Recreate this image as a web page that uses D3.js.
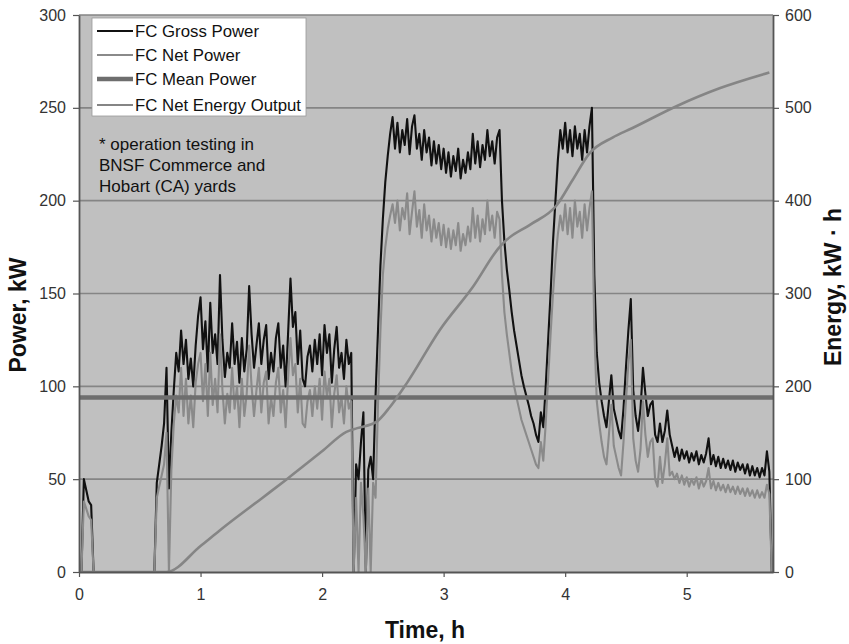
<!DOCTYPE html>
<html>
<head>
<meta charset="utf-8">
<script src="https://cdn.jsdelivr.net/npm/d3@7"></script>
<style>
body { margin: 0; background: #fff; }
text { font-family: Arial, "Liberation Sans", sans-serif; }
</style>
</head>
<body>
<svg id="chart"></svg>
<script>
var width = 849;
var height = 644;

// power samples, one every 0.02 h starting at t = 0
var sampleHours = 0.02;

var grossPower = [
 0,0,50,44,38,36,0,0,0,0,
 0,0,0,0,0,0,0,0,0,0,
 0,0,0,0,0,0,0,0,0,0,
 0,0,48,58,68,80,110,45,75,98,
 118,108,130,112,125,104,115,100,122,138,
 148,120,135,108,145,118,128,112,160,125,
 105,118,110,134,112,124,102,126,108,120,
 154,128,110,122,134,112,125,133,104,118,
 108,126,134,110,122,100,128,158,132,140,
 112,130,104,100,116,122,108,125,112,128,
 106,133,118,128,102,120,132,110,118,104,
 125,112,118,0,58,50,70,86,0,55,
 62,50,95,130,165,190,210,224,236,245,
 228,242,226,238,230,244,225,240,246,228,
 236,222,238,226,234,219,232,220,230,217,
 228,215,226,213,224,216,228,212,222,215,
 226,217,236,220,232,218,230,222,238,224,
 232,220,234,238,200,178,163,152,140,130,
 122,114,106,100,95,90,84,80,74,70,
 86,78,100,125,150,178,200,222,238,228,
 242,226,238,224,240,228,236,222,238,226,
 240,250,160,118,102,92,84,78,92,106,
 88,82,76,72,88,110,130,147,98,84,
 76,88,110,96,84,90,92,74,70,80,
 70,76,87,74,68,62,67,60,66,61,
 65,59,64,60,65,58,63,59,64,72,
 58,63,57,62,56,61,56,60,55,60,
 54,59,55,58,53,58,52,57,52,56,
 51,56,52,65,54,0
];

var netPower = [
 0,0,38,34,30,28,0,0,0,0,
 0,0,0,0,0,0,0,0,0,0,
 0,0,0,0,0,0,0,0,0,0,
 0,0,40,46,52,58,75,0,55,80,
 95,86,110,84,104,80,95,78,102,112,
 118,92,112,84,118,90,104,86,128,98,
 80,96,86,110,88,100,78,104,84,96,
 122,100,84,98,110,86,102,108,80,94,
 84,102,110,86,98,78,104,126,106,112,
 86,104,80,78,92,98,84,100,88,104,
 82,108,94,104,78,96,106,86,94,80,
 100,88,92,0,40,0,48,30,0,45,
 0,48,40,90,130,160,175,185,192,198,
 188,200,184,196,190,204,182,194,205,186,
 195,180,198,184,192,178,190,180,188,176,
 187,175,185,174,184,176,188,173,182,176,
 186,178,196,180,192,178,190,182,200,184,
 192,180,194,190,160,140,128,118,108,100,
 94,88,82,78,74,70,66,62,58,56,
 70,60,80,104,128,150,168,182,192,184,
 198,182,196,180,200,186,194,180,198,184,
 196,205,130,92,80,70,62,58,74,90,
 68,62,56,52,70,92,112,125,72,60,
 54,66,92,74,62,70,72,50,46,62,
 48,58,72,52,54,50,53,48,52,47,
 51,46,50,47,51,45,50,46,49,56,
 45,49,44,48,44,47,43,47,43,46,
 42,46,42,45,41,45,41,44,40,44,
 40,43,40,47,42,0
];

var meanPower = 94;

var energyHours = [0,0.72,1.0,1.16,1.5,1.71,2.0,2.2,2.29,2.45,2.56,2.7,2.97,3.24,3.46,3.52,3.71,3.93,4.06,4.2,4.39,4.55,4.92,5.27,5.68];
var energyKWh = [0,0,28,45,79,100,130,151,155,162,178,204,261,307,350,358,374,395,422,451,468,478,502,521,538];

var powerTicks = [0,50,100,150,200,250,300];
var energyTicks = [0,100,200,300,400,500,600];
var timeTicks = [0,1,2,3,4,5];

var legendNames = ["FC Gross Power","FC Net Power","FC Mean Power","FC Net Energy Output"];
var noteLines = ["* operation testing in","BNSF Commerce and","Hobart (CA) yards"];

var plotLeft = 79, plotRight = 773, plotTop = 15, plotBottom = 572;

var x = d3.scaleLinear().domain([0,5.71]).range([plotLeft,plotRight]);
var yPower = d3.scaleLinear().domain([0,300]).range([plotBottom,plotTop]);
var yEnergy = d3.scaleLinear().domain([0,600]).range([plotBottom,plotTop]);

var svg = d3.select("#chart")
  .attr("width", width)
  .attr("height", height);

svg.append("rect")
  .attr("x", plotLeft).attr("y", plotTop)
  .attr("width", plotRight-plotLeft).attr("height", plotBottom-plotTop)
  .attr("fill", "#c0c0c0");

svg.selectAll(".grid")
  .data(powerTicks.slice(1))
  .enter()
  .append("line")
  .attr("x1", plotLeft).attr("x2", plotRight)
  .attr("y1", function(d) { return yPower(d) })
  .attr("y2", function(d) { return yPower(d) })
  .attr("stroke", "#858585")
  .attr("stroke-width", 1.6);

svg.append("clipPath").attr("id","plotclip")
  .append("rect")
  .attr("x", plotLeft).attr("y", plotTop)
  .attr("width", plotRight-plotLeft).attr("height", plotBottom-plotTop+1);

var plot = svg.append("g").attr("clip-path","url(#plotclip)");

var powerLine = d3.line()
  .x(function(d,i) { return x(i*sampleHours) })
  .y(function(d) { return yPower(d) });

plot.append("path")
  .attr("d", powerLine(grossPower))
  .attr("fill","none")
  .attr("stroke","#111")
  .attr("stroke-width",2.1)
  .attr("stroke-linejoin","round");

plot.append("path")
  .attr("d", powerLine(netPower))
  .attr("fill","none")
  .attr("stroke","#8a8a8a")
  .attr("stroke-width",2.1)
  .attr("stroke-linejoin","round");

plot.append("line")
  .attr("x1", plotLeft).attr("x2", plotRight)
  .attr("y1", yPower(meanPower)).attr("y2", yPower(meanPower))
  .attr("stroke","#6e6e6e")
  .attr("stroke-width",4.5);

var energyLine = d3.line()
  .x(function(d,i) { return x(energyHours[i]) })
  .y(function(d) { return yEnergy(d) })
  .curve(d3.curveMonotoneX);

plot.append("path")
  .attr("d", energyLine(energyKWh))
  .attr("fill","none")
  .attr("stroke","#858585")
  .attr("stroke-width",2.6);

// axes
var gLeft = svg.append("g")
  .attr("transform","translate("+plotLeft+",0)")
  .call(d3.axisLeft(yPower).tickValues(powerTicks).tickSize(6).tickSizeOuter(0).tickPadding(7));

var gRight = svg.append("g")
  .attr("transform","translate("+plotRight+",0)")
  .call(d3.axisRight(yEnergy).tickValues(energyTicks).tickSize(6).tickSizeOuter(0).tickPadding(6));

var gBottom = svg.append("g")
  .attr("transform","translate(0,"+plotBottom+")")
  .call(d3.axisBottom(x).tickValues(timeTicks).tickFormat(d3.format("d")).tickSize(5).tickSizeOuter(0).tickPadding(12));

[gLeft,gRight,gBottom].forEach(function(g) {
  g.select(".domain").attr("stroke","#555").attr("stroke-width",1.8);
  g.selectAll(".tick line").attr("stroke","#555").attr("stroke-width",1.2);
  g.selectAll(".tick text")
    .attr("fill","#333")
    .style("font-size","16px")
    .style("font-family","Arial, 'Liberation Sans', sans-serif");
});

// axis titles
svg.append("text")
  .attr("transform","translate(26,315) rotate(-90)")
  .attr("text-anchor","middle")
  .style("font-size","23px").style("font-weight","bold")
  .attr("fill","#111")
  .text("Power, kW");

svg.append("text")
  .attr("transform","translate(841,287) rotate(-90)")
  .attr("text-anchor","middle")
  .style("font-size","23px").style("font-weight","bold")
  .attr("fill","#111")
  .text("Energy, kW · h");

svg.append("text")
  .attr("x",425).attr("y",638)
  .attr("text-anchor","middle")
  .style("font-size","23px").style("font-weight","bold")
  .attr("fill","#111")
  .text("Time, h");

// legend
var legend = svg.append("g");
legend.append("rect")
  .attr("x",92).attr("y",18).attr("width",214).attr("height",98)
  .attr("fill","#fff").attr("stroke","#999").attr("stroke-width",0.8);

var legendStyles = [
  {color:"#111", w:1.8},
  {color:"#8a8a8a", w:1.8},
  {color:"#6e6e6e", w:4.5},
  {color:"#858585", w:2.2}
];
var legendY = [31,55,79,105];

legendNames.forEach(function(name,i) {
  legend.append("line")
    .attr("x1",97).attr("x2",133)
    .attr("y1",legendY[i]).attr("y2",legendY[i])
    .attr("stroke",legendStyles[i].color)
    .attr("stroke-width",legendStyles[i].w);
  legend.append("text")
    .attr("x",135).attr("y",legendY[i]+6)
    .style("font-size","16.8px")
    .attr("fill","#111")
    .text(name);
});

// note
svg.selectAll(".note")
  .data(noteLines)
  .enter()
  .append("text")
  .attr("x",99)
  .attr("y",function(d,i) { return 150 + i*21 })
  .style("font-size","17px")
  .attr("fill","#111")
  .text(function(d) { return d });
</script>
</body>
</html>
